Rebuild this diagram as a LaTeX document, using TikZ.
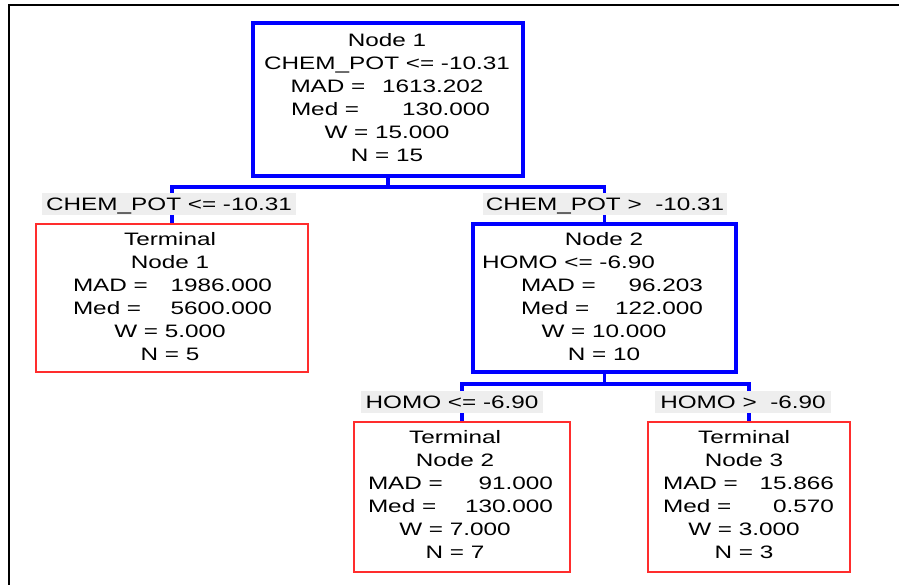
\documentclass[tikz,border=0pt]{standalone}
\usepackage{fontspec}
\setmainfont{Liberation Sans}[FakeStretch=1.35]
\definecolor{nodeblue}{RGB}{0,0,255}
\definecolor{termred}{RGB}{255,45,45}
\definecolor{labgray}{RGB}{238,238,238}
\newcommand\kvline[4]{\hspace*{#4}\makebox[#3]{#1\hfill#2}}
\begin{document}
\begin{tikzpicture}[x=1pt,y=-1pt,
  splitbox/.style={draw=nodeblue, line width=3.6pt, inner sep=0pt},
  termbox/.style={draw=termred, line width=1.8pt, inner sep=0pt},
  conn/.style={draw=nodeblue, line width=3.6pt, line join=miter},
  txt/.style={font=\fontsize{18}{23}\selectfont, align=center, inner sep=0pt, anchor=north},
  cond/.style={fill=labgray, inner sep=0pt, minimum height=22pt, text height=14pt, text depth=0pt, font=\fontsize{18}{23}\selectfont},
  frame/.style={draw=black, line width=2pt}]
\useasboundingbox (0,0) rectangle (899,585);
\draw[frame] (9,585) -- (9,5) -- (899,5);

% boxes
\node[splitbox, minimum width=270pt, minimum height=153pt] (n1) at (388,99.5) {};
\node[termbox, minimum width=272pt, minimum height=148pt] (t1) at (172,298) {};
\node[splitbox, minimum width=263pt, minimum height=148pt] (n2) at (604.5,298) {};
\node[termbox, minimum width=216pt, minimum height=150pt] (t2) at (462,497) {};
\node[termbox, minimum width=202pt, minimum height=150pt] (t3) at (749,497) {};

% connectors
\draw[conn] (n1.south) -- ++(0,9) coordinate (j1);
\draw[conn] (t1.north) |- (j1) -| (n2.north);
\draw[conn] (n2.south) -- ++(0,10) coordinate (j2);
\draw[conn] (t2.north) |- (j2) -| (t3.north);

% split conditions
\node[cond, minimum width=254pt] (c1) at (169,204) {CHEM\_POT <= -10.31};
\node[cond, minimum width=244pt] (c2) at (605,204) {CHEM\_POT >\ \ -10.31};
\node[cond, minimum width=182pt] (c3) at (452,401.5) {HOMO <= -6.90};
\node[cond, minimum width=176pt] (c4) at (743,401.5) {HOMO >\ \ -6.90};

% texts
\node[txt] (n1t) at (387,33) {Node 1\\CHEM\_POT <= -10.31\\
  \kvline{MAD =}{1613.202}{193pt}{0pt}\\
  \kvline{Med =}{130.000}{199pt}{7pt}\\
  W = 15.000\\N = 15};
\node[txt] (t1t) at (170,232) {Terminal\\Node 1\\
  \kvline{MAD =}{1986.000}{199pt}{5pt}\\
  \kvline{Med =}{5600.000}{199pt}{5pt}\\
  W = 5.000\\N = 5};
\node[txt] (n2t) at (604,232) {Node 2\\\makebox[244pt][l]{HOMO <= -6.90}\\
  \kvline{MAD =}{96.203}{182pt}{16pt}\\
  \kvline{Med =}{122.000}{182pt}{16pt}\\
  W = 10.000\\N = 10};
\node[txt] (t2t) at (455,430) {Terminal\\Node 2\\
  \kvline{MAD =}{91.000}{185pt}{11pt}\\
  \kvline{Med =}{130.000}{185pt}{11pt}\\
  W = 7.000\\N = 7};
\node[txt] (t3t) at (744,430) {Terminal\\Node 3\\
  \kvline{MAD =}{15.866}{171pt}{9pt}\\
  \kvline{Med =}{0.570}{171pt}{9pt}\\
  W = 3.000\\N = 3};
\end{tikzpicture}
\end{document}
